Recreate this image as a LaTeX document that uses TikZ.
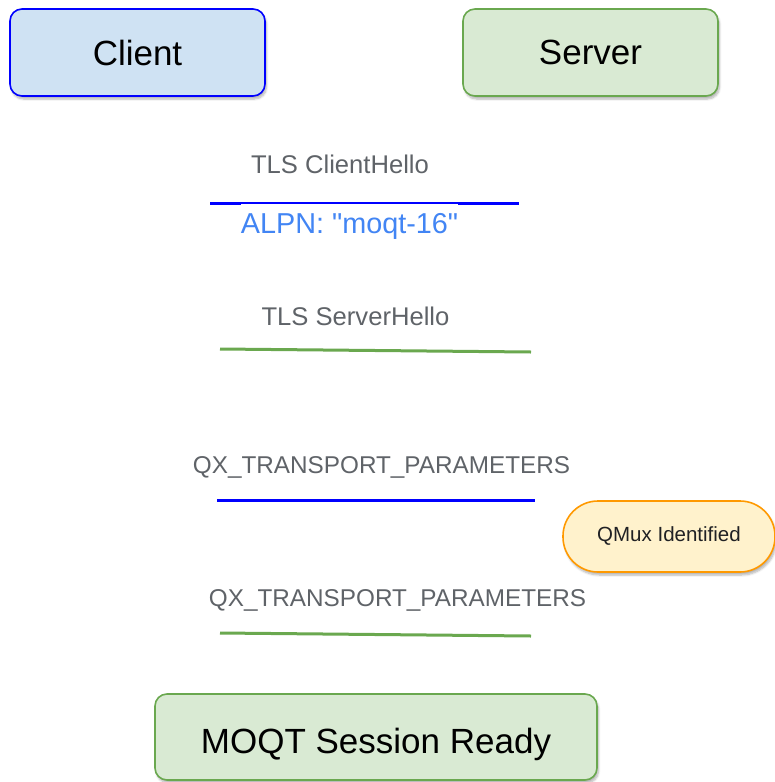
\documentclass[tikz,border=0pt]{standalone}
\usepackage{fontspec}
\setmainfont{Liberation Sans}[Ligatures=TeXOff]
\usetikzlibrary{shadows.blur}
\definecolor{cfill}{HTML}{CFE2F3}
\definecolor{cborder}{HTML}{0000FF}
\definecolor{sfill}{HTML}{D9EAD3}
\definecolor{sborder}{HTML}{6AA84F}
\definecolor{qfill}{HTML}{FFF2CC}
\definecolor{qborder}{HTML}{FF9900}
\definecolor{msggrey}{HTML}{5F6368}
\definecolor{alpnblue}{HTML}{4285F4}
\definecolor{dark}{HTML}{202124}
\tikzset{
  boxshadow/.style={blur shadow={shadow blur steps=6, shadow xshift=1.5pt, shadow yshift=-3pt, shadow opacity=30}},
  party/.style={rounded corners=12pt, minimum width=255pt, minimum height=87pt, inner sep=0pt, line width=1.6pt, font=\fontsize{35}{40}\selectfont, text=black, boxshadow},
  msg/.style={anchor=base, inner sep=0pt, text=msggrey, font=\fontsize{24}{28}\selectfont},
  tlsmsg/.style={msg, font=\fontsize{25.6}{30}\selectfont},
  qxmsg/.style={msg, font=\fontsize{24.3}{28}\selectfont},
  cline/.style={draw=cborder, line width=3pt},
  sline/.style={draw=sborder, line width=3pt},
}
\begin{document}
\begin{tikzpicture}[x=1pt,y=-1pt]
\useasboundingbox (0,0) rectangle (775,782);
\node[party, fill=cfill, draw=cborder] (client) at (137.5,52.5) {Client};
\node[party, fill=sfill, draw=sborder] (server) at (590.5,52.5) {Server};

\node[tlsmsg] (m1) at (340,173) {TLS ClientHello};
\coordinate (l1a) at (210,203);
\coordinate (l1b) at (519,203);
\draw[cline] (l1a) -- (l1b);
\node[anchor=base, inner xsep=0pt, inner ysep=0pt, text height=29.5pt, text depth=0pt, fill=white, text=alpnblue, font=\fontsize{28.8}{32}\selectfont] (alpn) at (349.5,233) {ALPN: "moqt-16"};

\node[tlsmsg] (m2) at (355.5,325) {TLS ServerHello};
\coordinate (l2a) at (220,349);
\coordinate (l2b) at (531,352);
\draw[sline] (l2a) -- (l2b);

\node[qxmsg] (m3) at (381.5,473) {QX\_TRANSPORT\_PARAMETERS};
\coordinate (l3a) at (217,500);
\coordinate (l3b) at (535,500);
\draw[cline] (l3a) -- (l3b);

\node[rounded corners=35pt, minimum width=212pt, minimum height=71pt, inner sep=0pt, fill=qfill, draw=qborder, line width=1.6pt, text=dark, font=\fontsize{20.5}{24}\selectfont, boxshadow] (qmux) at (669,536.5) {QMux Identified};

\node[qxmsg] (m4) at (397.5,606) {QX\_TRANSPORT\_PARAMETERS};
\coordinate (l4a) at (220,633);
\coordinate (l4b) at (531,636);
\draw[sline] (l4a) -- (l4b);

\node[party, minimum width=442pt, minimum height=86pt, text height=32pt, text depth=0pt, fill=sfill, draw=sborder] (ready) at (376,737) {MOQT Session Ready};
\end{tikzpicture}
\end{document}
